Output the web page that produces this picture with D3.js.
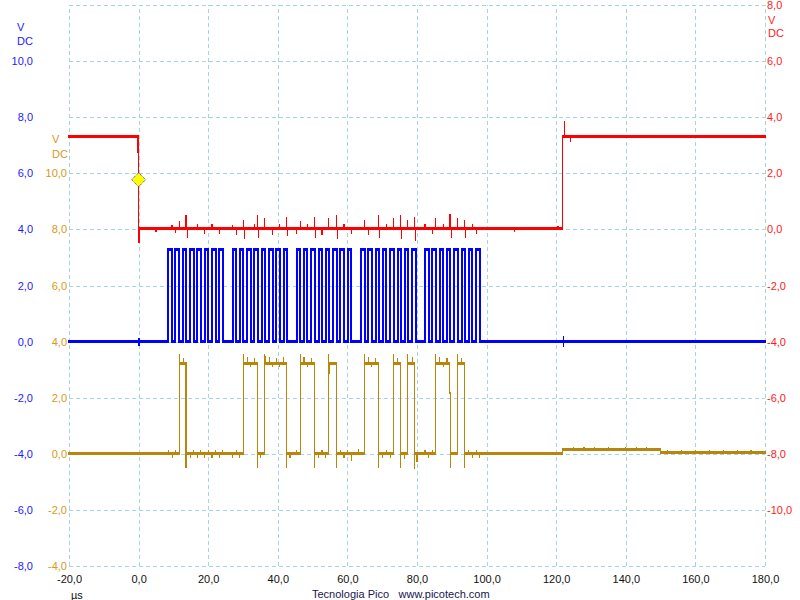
<!DOCTYPE html>
<html><head><meta charset="utf-8">
<script src="https://cdn.jsdelivr.net/npm/d3@7"></script>
<style>
html,body{margin:0;padding:0;background:#fff;}
svg{display:block;font-family:"Liberation Sans",Arial,sans-serif;font-size:11px;}
</style></head><body>
<svg id="chart" width="800" height="600"></svg>
<script>
// ---------- axis ticks ----------
const timeTicks = [-20,0,20,40,60,80,100,120,140,160,180];
const blueTicks = [-8,-6,-4,-2,0,2,4,6,8,10];
const goldTicks = [-4,-2,0,2,4,6,8,10];
const redTicks  = [-10,-8,-6,-4,-2,0,2,4,6,8];
const gridBlueLevels = [-8,-6,-4,-2,0,2,4,6,8,10,12];

// ---------- channel A (red, chip select) : [time µs, volts] step changes ----------
const redSteps = [[-20,3.3],[-0.2,2.76],[0.05,0.04],[121.9,3.3],[180,3.3]];
const redSpikes = [
  [0.1,-0.5],[3,0.1],[5,-0.08],[9.6,0.15],[10.6,-0.12],[11.7,0.3],[13.6,0.5],[14.0,-0.3],
  [16.9,0.18],[19.0,-0.15],[21.1,0.2],[23.2,-0.15],[27.0,0.15],[28.1,-0.2],[30.1,0.35],[30.5,-0.35],
  [33.3,0.2],[34.1,0.5],[34.4,-0.3],[36.1,0.4],[38.5,-0.2],[40.6,0.2],[42.4,0.45],[42.7,-0.25],
  [45.4,-0.15],[46.5,0.3],[48.5,0.2],[50.5,0.45],[50.8,-0.3],[52.7,-0.2],[54.6,0.4],[56.8,0.5],
  [57.1,-0.35],[59.0,0.2],[61.1,-0.15],[64.9,0.35],[66.0,-0.2],[68.9,0.5],[69.2,-0.3],[71.2,0.2],
  [73.2,0.4],[75.2,0.5],[75.5,-0.35],[77.2,0.35],[79.2,0.45],[79.5,-0.4],[82.3,0.2],[84.4,-0.15],
  [85.3,0.4],[87.5,0.2],[89.5,0.55],[89.8,-0.3],[91.6,0.4],[93.6,0.35],[93.9,-0.3],[95.9,0.2],
  [97.0,-0.15],[102,0.08],[108,-0.08],[114,0.08],[120.5,0.12],[122.3,3.85],[124.2,3.1]
];
const trigger = {t: 0, v: 1.77};

// ---------- channel B (blue, clock) ----------
const blueSteps = [[-20,0],
  [8.5,3.3],[9.6,0],[10.6,3.3],[11.6,0],[12.7,3.3],[13.7,0],[14.8,3.3],[15.8,0],
  [16.9,3.3],[17.9,0],[19.0,3.3],[20.0,0],[21.1,3.3],[22.1,0],[23.2,3.3],[24.2,0],
  [27.0,3.3],[28.1,0],[29.1,3.3],[30.1,0],[31.2,3.3],[32.2,0],[33.3,3.3],[34.3,0],
  [35.4,3.3],[36.4,0],[37.5,3.3],[38.5,0],[39.6,3.3],[40.6,0],[41.7,3.3],[42.7,0],
  [45.4,3.3],[46.5,0],[47.5,3.3],[48.5,0],[49.6,3.3],[50.6,0],[51.7,3.3],[52.7,0],
  [53.8,3.3],[54.8,0],[55.9,3.3],[56.9,0],[58.0,3.3],[59.0,0],[60.1,3.3],[61.1,0],
  [63.9,3.3],[65.0,0],[66.0,3.3],[67.0,0],[68.1,3.3],[69.1,0],[70.2,3.3],[71.2,0],
  [72.3,3.3],[73.3,0],[74.4,3.3],[75.4,0],[76.5,3.3],[77.5,0],[78.6,3.3],[79.6,0],
  [82.3,3.3],[83.4,0],[84.4,3.3],[85.4,0],[86.5,3.3],[87.5,0],[88.6,3.3],[89.6,0],
  [90.7,3.3],[91.7,0],[92.8,3.3],[93.8,0],[94.9,3.3],[95.9,0],[97.0,3.3],[98.0,0],
  [180,0]];
const blueSpikes = [[0.1,-0.15],[0.1,0.12],[122.2,0.2],[122.2,-0.2]];

// ---------- channel C (gold, data) ----------
const goldSteps = [[-20,0],
  [11.7,3.23],[13.6,0],[30.1,3.23],[34.1,0],[36.1,3.23],[42.4,0],[46.5,3.23],[50.5,0],
  [54.5,2.9],[54.8,3.23],[56.8,0],[64.9,3.23],[68.9,0],[73.2,3.23],[75.2,0],[77.2,3.23],[79.2,0],
  [85.3,3.23],[89.4,2.17],[89.6,0],[91.6,3.23],[93.6,0],[121.9,0.16],[150,0.05],[180,0.05]];
const goldSpikes = [
  [11.7,3.56],[13.6,-0.51],[30.1,3.56],[34.1,-0.51],[36.1,3.56],[36.4,3.5],[42.4,-0.51],[46.5,3.56],
  [50.5,-0.51],[54.6,3.56],[56.8,-0.51],[64.9,3.56],[68.9,-0.51],[73.2,3.56],[75.2,-0.51],[77.2,3.56],
  [79.2,-0.55],[85.3,3.56],[89.6,-0.51],[91.6,3.56],[93.6,-0.51],
  [8.5,0.14],[9.7,-0.14],[10.7,0.14],[12.8,3.4],[14.8,-0.14],[15.8,0.14],[16.9,-0.14],[17.9,0.14],
  [19.0,-0.14],[20.0,0.14],[21.1,-0.14],[22.1,0.14],[23.2,-0.14],[24.2,0.14],[27.0,-0.14],[28.1,0.14],
  [29.1,-0.14],[31.2,3.45],[32.2,3.1],[33.3,3.4],[35.0,-0.14],[37.5,3.45],[38.5,3.1],[39.6,3.4],
  [40.6,3.1],[41.7,3.45],[43.5,-0.14],[45.4,0.14],[47.5,3.45],[48.5,3.1],[49.6,3.4],[51.7,-0.14],
  [52.7,0.14],[53.8,-0.14],[58.0,0.14],[59.0,-0.14],[60.1,0.14],[61.1,-0.25],[63.2,0.16],[66.0,3.45],
  [67.0,3.1],[68.1,3.4],[70.2,-0.14],[71.2,0.14],[72.3,-0.14],[74.4,3.4],[76.5,-0.2],[78.6,3.45],
  [80.0,-0.3],[82.3,0.14],[83.4,-0.14],[84.4,0.14],[86.5,3.45],[87.5,3.1],[88.6,3.4],[92.8,3.4],
  [94.9,0.14],[95.9,-0.14],[97.0,0.14],[98.0,-0.14],
  [125,0.26],[128,0.24],[131,0.26],[135,0.25],[140,0.26],[143,0.24],[146,0.25],[149,0.22],
  [152,0.12],[156,0.14],[160,0.13],[164,0.12],[168,0.13],[172,0.12],[176,0.12]
];

// ---------- drawing ----------
const svg = d3.select("#chart");
const L = 69, R = 765, T = 5, B = 566;
const x = d3.scaleLinear().domain([-20,180]).range([L,R]);
const yBlue = d3.scaleLinear().domain([-8,12]).range([B,T]);
const yGold = d3.scaleLinear().domain([-4,16]).range([B,T]);
const yRed  = d3.scaleLinear().domain([-12,8]).range([B,T]);
const fmt = d => d.toFixed(1).replace(".", ",");
const gridColor = "#a6d4e2";

// grid
const gx = svg.append("g").attr("transform",`translate(0,${B})`)
  .call(d3.axisBottom(x).tickValues(timeTicks).tickSize(-(B-T)).tickFormat(""));
gx.select(".domain").remove();
gx.selectAll("line").attr("stroke",gridColor).attr("stroke-dasharray","4,3").attr("shape-rendering","crispEdges");
const gy = svg.append("g").attr("transform",`translate(${L},0)`)
  .call(d3.axisLeft(yBlue).tickValues(gridBlueLevels).tickSize(-(R-L)).tickFormat(""));
gy.select(".domain").remove();
gy.selectAll("line").attr("stroke",gridColor).attr("stroke-dasharray","4,3").attr("shape-rendering","crispEdges");

// axes labels
function styleAxis(g, color){
  g.select(".domain").remove();
  g.selectAll("text").attr("fill",color).style("font-size","11px")
    .style("font-family",'"Liberation Sans",Arial,sans-serif');
}
const blueTxt = "#1a1aff", goldTxt = "#d49a1c", redTxt = "#ff1a1a";
const ab = svg.append("g").attr("transform","translate(33,0)")
  .call(d3.axisLeft(yBlue).tickValues(blueTicks).tickSize(0).tickPadding(0).tickFormat(fmt));
styleAxis(ab, blueTxt);
const ag = svg.append("g").attr("transform","translate(67,0)")
  .call(d3.axisLeft(yGold).tickValues(goldTicks).tickSize(0).tickPadding(0).tickFormat(fmt));
styleAxis(ag, goldTxt);
const ar = svg.append("g").attr("transform","translate(767,0)")
  .call(d3.axisRight(yRed).tickValues(redTicks).tickSize(0).tickPadding(0).tickFormat(fmt));
styleAxis(ar, redTxt);
const axb = svg.append("g").attr("transform",`translate(0,${B})`)
  .call(d3.axisBottom(x).tickValues(timeTicks).tickSize(0).tickPadding(9).tickFormat(fmt));
styleAxis(axb, "#111");

function label(txt, xx, yy, color, anchor){
  svg.append("text").attr("x",xx).attr("y",yy).attr("fill",color)
    .attr("text-anchor",anchor||"start").text(txt);
}
label("V",17,30.7,blueTxt); label("DC",17,44.5,blueTxt);
label("V",52,143,goldTxt); label("DC",52,158,goldTxt);
label("V",768,23.5,redTxt); label("DC",768,36.5,redTxt);
label("µs",71,599,"#111");
label("Tecnologia Pico",312,598,"#1a1650");
label("www.picotech.com",398.5,598,"#141450");

// traces
function stepAt(steps, t){
  let v = steps[0][1];
  for (const s of steps){ if (s[0] <= t) v = s[1]; else break; }
  return v;
}
function drawTrace(steps, spikes, y, color, hW, vW){
  const g = svg.append("g").attr("shape-rendering","crispEdges");
  const horiz = [], vert = [];
  for (let i=0;i<steps.length-1;i++){
    horiz.push([steps[i][0], steps[i+1][0], steps[i][1]]);
    if (steps[i+1][1] !== steps[i][1]) vert.push([steps[i+1][0], steps[i][1], steps[i+1][1]]);
  }
  g.selectAll(null).data(vert).join("line")
    .attr("x1",d=>x(d[0])).attr("x2",d=>x(d[0]))
    .attr("y1",d=>y(d[1])).attr("y2",d=>y(d[2]))
    .attr("stroke",color).attr("stroke-width",vW);
  g.selectAll(null).data(horiz).join("line")
    .attr("x1",d=>x(d[0])-vW/2).attr("x2",d=>x(d[1])+vW/2)
    .attr("y1",d=>y(d[2])).attr("y2",d=>y(d[2]))
    .attr("stroke",color).attr("stroke-width",hW);
  g.selectAll(null).data(spikes).join("line")
    .attr("x1",d=>x(d[0])).attr("x2",d=>x(d[0]))
    .attr("y1",d=>y(stepAt(steps,d[0]))).attr("y2",d=>y(d[1]))
    .attr("stroke",color).attr("stroke-width",1.2);
}
drawTrace(goldSteps, goldSpikes, yGold, "#b8860b", 2.8, 1.3);
drawTrace(blueSteps, blueSpikes, yBlue, "#0000ff", 3, 2);
drawTrace(redSteps, redSpikes, yRed, "#ff0000", 3, 1.3);

// trigger marker
svg.append("path")
  .attr("d","M0,-7L7,0L0,7L-7,0Z")
  .attr("transform",`translate(${x(trigger.t)},${yRed(trigger.v)})`)
  .attr("fill","#ffff00").attr("stroke","#00008b").attr("stroke-width",0.8)
  .attr("stroke-dasharray","1,1");
</script>
</body></html>
